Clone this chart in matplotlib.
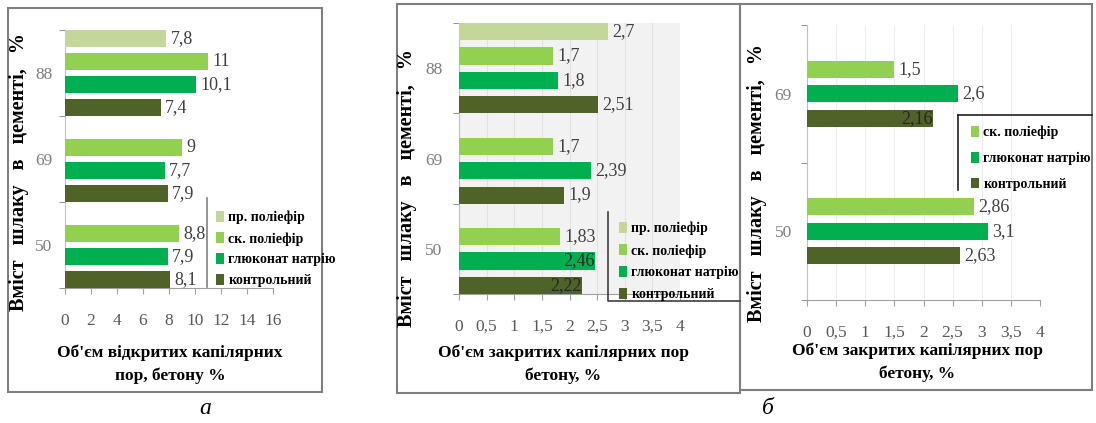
import numpy as np
import matplotlib
matplotlib.use('Agg')
import matplotlib.pyplot as plt
from matplotlib.patches import Rectangle, Patch
from matplotlib.lines import Line2D

plt.rcParams['font.family'] = ['Liberation Serif', 'DejaVu Serif']

# ================================================================
# Data
# ================================================================

SERIES = ['пр. поліефір', 'ск. поліефір', 'глюконат натрію', 'контрольний']
COLORS = ['#C4D79B', '#92D050', '#00B050', '#4F6228']

cats_ab = ['50', '69', '88']
a_pr = [np.nan, np.nan, 7.8]
a_sk = [8.8, 9, 11]
a_gl = [7.9, 7.7, 10.1]
a_ko = [8.1, 7.9, 7.4]
a_ticks = [0, 2, 4, 6, 8, 10, 12, 14, 16]

b_pr = [np.nan, np.nan, 2.7]
b_sk = [1.83, 1.7, 1.7]
b_gl = [2.46, 2.39, 1.8]
b_ko = [2.22, 1.9, 2.51]

cats_c = ['50', '69']
c_sk = [2.86, 1.5]
c_gl = [3.1, 2.6]
c_ko = [2.63, 2.16]
bc_ticks = [0, 0.5, 1, 1.5, 2, 2.5, 3, 3.5, 4]

# labels drawn inside the bar end (hidden partly by legend in the original)
inside_b = {(2, 0), (3, 0)}   # (series, category)
inside_c = {(2, 1)}

W, H = 1096, 423
fig = plt.figure(figsize=(W / 100, H / 100), dpi=100)


def fx(x):
    return x / W


def fy(y):
    return 1 - y / H


def make_axes(left, right, top, bottom):
    return fig.add_axes([fx(left), fy(bottom), fx(right) - fx(left), fy(top) - fy(bottom)])


def fmt(v):
    return f'{v:g}'.replace('.', ',')


def draw_panel(ax, cats, series, colors, slot, height, xmax, ticks, inside,
               ypad, bg='white', grid=None):
    n = len(series)
    y0 = np.arange(len(cats))
    for i, (vals, col) in enumerate(zip(series, colors)):
        off = ((n - 1) / 2 - i) * slot
        vals = np.array(vals, dtype=float)
        ys = y0 + off
        mask = ~np.isnan(vals)
        ax.barh(ys[mask], vals[mask], height=height, color=col, zorder=3)
        for j in np.where(mask)[0]:
            if (i, j) in inside:
                ax.annotate(fmt(vals[j]), (vals[j], ys[j]), xytext=(0, 0),
                            textcoords='offset points', ha='right', va='center',
                            fontsize=13, color='#262626', zorder=5)
            else:
                ax.annotate(fmt(vals[j]), (vals[j], ys[j]), xytext=(3, 0),
                            textcoords='offset points', ha='left', va='center',
                            fontsize=13, color='#404040', zorder=5)
    ax.set_xlim(0, xmax)
    ax.set_ylim(-0.5, len(cats) - 0.5)
    ax.set_facecolor(bg)
    ax.set_xticks(ticks)
    ax.set_xticklabels([fmt(t) for t in ticks], fontsize=12.5, color='#595959')
    ax.set_yticks(y0)
    ax.set_yticklabels(cats, fontsize=12.5, color='#7F7F7F')
    ax.set_yticks(np.arange(len(cats) + 1) - 0.5, minor=True)
    ax.tick_params(axis='y', which='major', length=0, pad=ypad)
    ax.tick_params(axis='y', which='minor', length=4, color='#808080')
    ax.tick_params(axis='x', length=4, color='#A0A0A0', pad=14)
    for s in ['top', 'right']:
        ax.spines[s].set_visible(False)
    ax.spines['left'].set_color('#C0C0C0')
    ax.spines['bottom'].set_color('#A0A0A0')
    if grid:
        ax.grid(axis='x', color=grid, linewidth=0.8, zorder=0)
        ax.set_axisbelow(True)


# ================================================================
# Panel frames
# ================================================================

for (x0, y0, x1, y1) in [(8, 8, 322, 392), (397, 4, 740, 393), (740, 4, 1092, 390)]:
    fig.patches.append(Rectangle((fx(x0), fy(y1)), fx(x1) - fx(x0), fy(y0) - fy(y1),
                                 transform=fig.transFigure, fill=False,
                                 edgecolor='#7F7F7F', linewidth=1.5))

# ================================================================
# Panel a
# ================================================================

ax_a = make_axes(65, 273, 30, 288)
draw_panel(ax_a, cats_ab, [a_pr, a_sk, a_gl, a_ko], COLORS, 0.267, 0.2, 16, a_ticks,
           set(), ypad=9)

# ================================================================
# Panel b
# ================================================================

ax_b = make_axes(459, 680, 23, 294)
draw_panel(ax_b, cats_ab, [b_pr, b_sk, b_gl, b_ko], COLORS, 0.27, 0.19, 4, bc_ticks,
           inside_b, ypad=12, bg='#F2F2F2', grid='#E2E2E2')

# ================================================================
# Panel c
# ================================================================

ax_c = make_axes(807, 1040, 25, 300)
draw_panel(ax_c, cats_c, [c_sk, c_gl, c_ko], COLORS[1:], 0.178, 0.125, 4, bc_ticks,
           inside_c, ypad=11, grid='#EDEDED')

# ================================================================
# Axis titles and panel letters
# ================================================================

ylab = 'Вміст   шлаку   в   цементі,   %'
fig.text(fx(19), fy(172), ylab, rotation=90, ha='center', va='center',
         fontsize=14.5, fontweight='bold')
fig.text(fx(407), fy(188), ylab, rotation=90, ha='center', va='center',
         fontsize=14.5, fontweight='bold')
fig.text(fx(757), fy(183), ylab, rotation=90, ha='center', va='center',
         fontsize=14.5, fontweight='bold')

fig.text(fx(170), fy(364), "Об'єм відкритих капілярних\nпор, бетону %",
         ha='center', va='center', fontsize=12.5, fontweight='bold', linespacing=1.5)
fig.text(fx(563), fy(364), "Об'єм закритих капілярних пор\nбетону, %",
         ha='center', va='center', fontsize=12.5, fontweight='bold', linespacing=1.5)
fig.text(fx(917), fy(362), "Об'єм закритих капілярних пор\nбетону, %",
         ha='center', va='center', fontsize=12.5, fontweight='bold', linespacing=1.55)

fig.text(fx(205), fy(408), 'а', ha='center', va='center', fontsize=17, style='italic')
fig.text(fx(768), fy(408), 'б', ha='center', va='center', fontsize=17, style='italic')

# ================================================================
# Legends
# ================================================================

def add_legend(names, colors, x, y, spacing):
    handles = [Patch(facecolor=c, edgecolor='none') for c in colors]
    fig.legend(handles, names, loc='upper left', bbox_to_anchor=(fx(x), fy(y)),
               frameon=False, borderpad=0, handlelength=0.6, handleheight=0.8,
               handletextpad=0.3, labelspacing=spacing,
               prop={'family': 'Liberation Serif', 'weight': 'bold', 'size': 10})


add_legend(SERIES, COLORS, 209, 204, 0.55)
add_legend(SERIES, COLORS, 612, 215, 0.62)
add_legend(SERIES[1:], COLORS[1:], 964, 119, 0.9)

# partial legend borders
for (xs, ys, col) in [([207, 207], [198, 287], '#808080'),
                      ([608, 608, 740], [212, 301, 301], '#404040'),
                      ([958, 958], [190, 115], '#202020'),
                      ([958, 1092], [115, 115], '#202020')]:
    fig.lines.append(Line2D([fx(v) for v in xs], [fy(v) for v in ys],
                            transform=fig.transFigure, color=col, linewidth=1.2))

plt.savefig('out.png', dpi=100)
plt.close()
